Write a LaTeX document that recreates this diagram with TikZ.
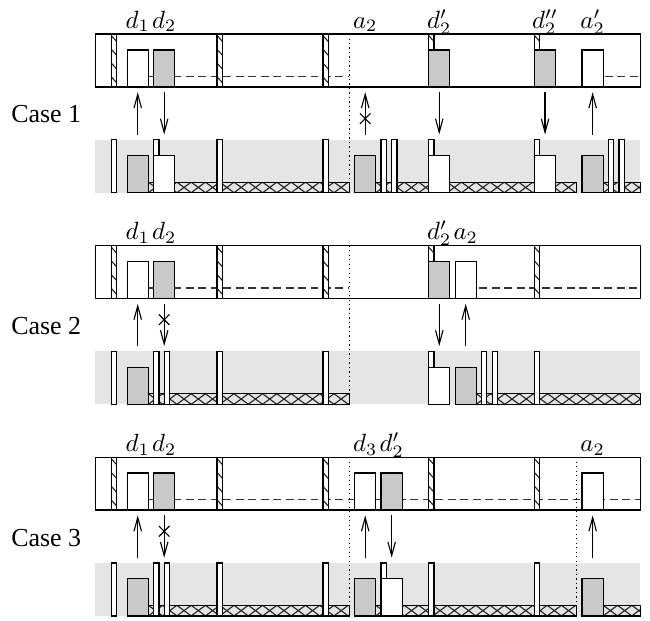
\documentclass[tikz,border=0pt]{standalone}
\usepackage[no-math]{fontspec}
\newfontfamily\casefont{Liberation Serif}
\usetikzlibrary{arrows.meta}
\definecolor{boxgray}{gray}{0.79}
\definecolor{stripgray}{gray}{0.9}
\tikzset{
  frame/.style={draw=black, line width=0.5pt},
  graybox/.style={fill=boxgray, draw=black, line width=0.5pt},
  whitebox/.style={fill=white, draw=black, line width=0.5pt},
  arr/.style={-{Straight Barb[length=5.5pt,width=3pt]}, line width=0.45pt},
  crossln/.style={line width=0.45pt},
  dashln/.style={dash pattern=on 3.2pt off 1.8pt, line width=0.5pt, draw=black!80},
  dotln/.style={dash pattern=on 0.5pt off 1.3pt, line width=0.55pt},
  hatchln/.style={line width=0.45pt, draw=black!85},
  lbl/.style={anchor=base, inner sep=0pt},
  caselbl/.style={anchor=base east, inner sep=0pt, font=\casefont\fontsize{10.4}{12}\selectfont},
}
% hatched bar: x, ybottom, ytop
\newcommand\hatchbar[3]{%
  \fill[white] (#1,#2) rectangle (#1+1,#3);
  \begin{scope}
    \clip (#1,#2) rectangle (#1+1,#3);
    \foreach \k in {0,...,4}{\draw[hatchln] (#1,#3-0.3-2.6*\k) -- ++(1,-1.1);}
  \end{scope}
  \draw[frame] (#1,#2) rectangle (#1+1,#3);
}
% crosshatched strip: x0, x1, ybottom
\newcommand\xhatch[3]{%
  \begin{scope}
    \clip (#1,#3) rectangle (#2,#3+2);
    \foreach \k in {0,...,36}{\draw[hatchln] (#1+2.7*\k,#3) -- ++(2.7,2) (#1+2.7*\k,#3+2) -- ++(2.7,-2);}
  \end{scope}
  \draw[frame] (#1,#3) rectangle (#2,#3+2);
}
\newcommand\wbar[3]{\draw[whitebox] (#1,#2) rectangle (#1+1,#3);}
\newcommand\gbox[2]{\draw[graybox] (#1,#2) rectangle (#1+4,#2+7);}
\newcommand\wbox[2]{\draw[whitebox] (#1,#2) rectangle (#1+4,#2+7);}
% arrows: x, Y (case offset)
\newcommand\uparr[2]{\draw[arr] (#1,#2-9) -- (#1,#2-1);}
\newcommand\downarr[2]{\draw[arr] (#1,#2-1) -- (#1,#2-9);}
\newcommand\xmark[2]{\draw[crossln] (#1-1,#2-1) -- (#1+1,#2+1) (#1-1,#2+1) -- (#1+1,#2-1);}
\begin{document}
\begin{tikzpicture}[x=2.12pt,y=2.12pt]
\useasboundingbox (-21.04,-100.96) rectangle (101.84,16.43);

% ================= Case 1 (Y=0) =================
\fill[white] (-3,0) rectangle (100,10);
\draw[dashln] (7,2) -- (45,2);
\draw[dashln] (93.3,2) -- (100,2);
\hatchbar{0}{0}{10}\hatchbar{20}{0}{10}\hatchbar{40}{0}{10}
\wbox{3}{0}\gbox{8}{0}
\hatchbar{60}{7}{10}\gbox{60}{0}
\hatchbar{80}{7}{10}\gbox{80}{0}
\wbox{89}{0}
\draw[frame] (-3,0) rectangle (100,10);

\fill[stripgray] (-3,-20) rectangle (100,-10);
\xhatch{7}{45}{-20}\xhatch{50}{88}{-20}\xhatch{93}{100}{-20}
\wbar{0}{-20}{-10}\wbar{20}{-20}{-10}\wbar{40}{-20}{-10}
\gbox{3}{-20}\wbar{8}{-13}{-10}\wbox{8}{-20}
\gbox{46}{-20}\wbar{51}{-20}{-10}\wbar{53}{-20}{-10}
\wbar{60}{-13}{-10}\wbox{60}{-20}
\wbar{80}{-13}{-10}\wbox{80}{-20}
\gbox{89}{-20}\wbar{94}{-20}{-10}\wbar{96}{-20}{-10}
\draw[dotln] (45,10) -- (45,-20);

\uparr{5}{0}\downarr{10}{0}
\uparr{48}{0}\xmark{48}{-6}
\downarr{62}{0}\downarr{82}{0}\uparr{91}{0}

\node[lbl] (c1d1) at (5,11.1) {$d_1$};
\node[lbl] (c1d2) at (10,11.1) {$d_2$};
\node[lbl] (c1a2) at (48,11.1) {$a_2$};
\node[lbl] (c1dp) at (62,11.1) {$d'_2$};
\node[lbl] (c1dpp) at (82,11.1) {$d''_2$};
\node[lbl] (c1ap) at (91,11.1) {$a'_2$};
\node[caselbl] (case1) at (-5.6,-6.8) {Case 1};

% ================= Case 2 (Y=-40) =================
\fill[white] (-3,-40) rectangle (100,-30);
\draw[dashln] (7,-38) -- (45,-38);
\draw[dashln] (69.6,-38) -- (100,-38);
\hatchbar{0}{-40}{-30}\hatchbar{20}{-40}{-30}\hatchbar{40}{-40}{-30}\hatchbar{80}{-40}{-30}
\wbox{3}{-40}\gbox{8}{-40}
\hatchbar{60}{-33}{-30}\gbox{60}{-40}
\wbox{65}{-40}
\draw[frame] (-3,-40) rectangle (100,-30);

\fill[stripgray] (-3,-60) rectangle (100,-50);
\xhatch{7}{45}{-60}\xhatch{69}{100}{-60}
\wbar{0}{-60}{-50}\wbar{8}{-60}{-50}\wbar{10}{-60}{-50}
\wbar{20}{-60}{-50}\wbar{40}{-60}{-50}
\gbox{3}{-60}
\wbar{60}{-53}{-50}\wbox{60}{-60}
\gbox{65}{-60}\wbar{70}{-60}{-50}\wbar{72}{-60}{-50}
\wbar{80}{-60}{-50}
\draw[dotln] (45,-30) -- (45,-60);

\uparr{5}{-40}\downarr{10}{-40}\xmark{10}{-44}
\downarr{62}{-40}\uparr{67}{-40}

\node[lbl] (c2d1) at (5,-28.9) {$d_1$};
\node[lbl] (c2d2) at (10,-28.9) {$d_2$};
\node[lbl] (c2dp) at (62,-28.9) {$d'_2$};
\node[lbl] (c2a2) at (67,-28.9) {$a_2$};
\node[caselbl] (case2) at (-5.6,-46.8) {Case 2};

% ================= Case 3 (Y=-80) =================
\fill[white] (-3,-80) rectangle (100,-70);
\draw[dashln] (7,-78) -- (100,-78);
\hatchbar{0}{-80}{-70}\hatchbar{20}{-80}{-70}\hatchbar{40}{-80}{-70}
\hatchbar{60}{-80}{-70}\hatchbar{80}{-80}{-70}
\wbox{3}{-80}\gbox{8}{-80}
\wbox{46}{-80}\gbox{51}{-80}
\wbox{89}{-80}
\draw[frame] (-3,-80) rectangle (100,-70);

\fill[stripgray] (-3,-100) rectangle (100,-90);
\xhatch{7}{45}{-100}\xhatch{50}{88}{-100}\xhatch{93}{100}{-100}
\wbar{0}{-100}{-90}\wbar{8}{-100}{-90}\wbar{10}{-100}{-90}
\wbar{20}{-100}{-90}\wbar{40}{-100}{-90}
\gbox{3}{-100}
\gbox{46}{-100}\wbar{51}{-93}{-90}\wbox{51}{-100}
\wbar{60}{-100}{-90}\wbar{80}{-100}{-90}
\gbox{89}{-100}
\draw[dotln] (45,-70) -- (45,-100);
\draw[dotln] (88,-70) -- (88,-100);

\uparr{5}{-80}\downarr{10}{-80}\xmark{10}{-84}
\uparr{48}{-80}\downarr{53}{-80}\uparr{91}{-80}

\node[lbl] (c3d1) at (5,-68.9) {$d_1$};
\node[lbl] (c3d2) at (10,-68.9) {$d_2$};
\node[lbl] (c3d3) at (48,-68.9) {$d_3$};
\node[lbl] (c3dp) at (53,-68.9) {$d'_2$};
\node[lbl] (c3a2) at (91,-68.9) {$a_2$};
\node[caselbl] (case3) at (-5.6,-86.8) {Case 3};
\end{tikzpicture}
\end{document}
